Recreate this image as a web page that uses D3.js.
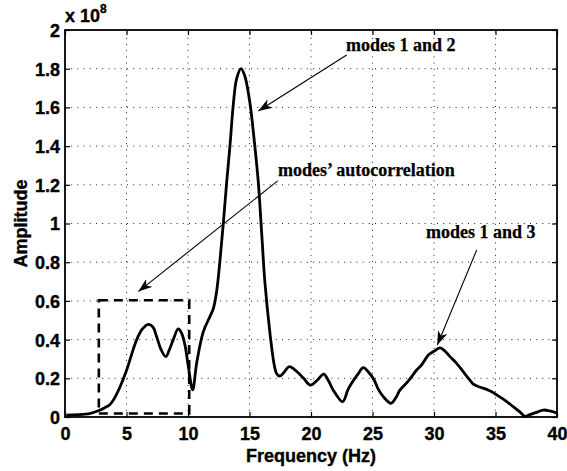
<!DOCTYPE html>
<html>
<head>
<meta charset="utf-8">
<script src="https://cdn.jsdelivr.net/npm/d3@7"></script>
<style>
  body { margin: 0; background: #fff; }
  svg { display: block; }
</style>
</head>
<body>
<svg id="chart" width="567" height="471"></svg>
<script>
// Spectrum amplitude (x 1e8) against frequency (Hz)
const frequency = [
  0.1, 1.0, 2.0, 2.7, 3.2, 3.66, 4.0, 4.47, 5.0, 5.4, 5.83, 6.3, 6.78, 7.15, 7.45, 7.8,
  8.19, 8.5, 8.8, 9.21, 9.5, 9.76, 10.03, 10.38, 10.7, 11.24, 11.79, 12.06, 12.33, 12.6,
  12.87, 13.14, 13.41, 13.69, 13.96, 14.31, 14.63, 15.04, 15.4, 15.72, 15.99, 16.26, 16.67,
  16.99, 17.2, 17.45, 17.75, 18.24, 18.84, 19.4, 19.95, 20.5, 21.03, 21.4, 21.8, 22.57,
  23.0, 23.3, 23.8, 24.25, 24.7, 25.1, 25.5, 25.88, 26.5, 26.9, 27.24, 27.9, 28.59, 29.0,
  29.54, 30.0, 30.49, 30.9, 31.3, 31.8, 32.38, 32.8, 33.2, 33.7, 34.28, 34.7, 35.1, 35.8,
  36.45, 37.0, 37.4, 37.7, 38.08, 38.5, 38.9, 39.5, 40.0
];
const amplitude = [
  0.010, 0.012, 0.018, 0.032, 0.047, 0.065, 0.095, 0.155, 0.24, 0.32, 0.40, 0.455, 0.479, 0.465, 0.415, 0.35,
  0.312, 0.35, 0.40, 0.455, 0.43, 0.37, 0.26, 0.14, 0.277, 0.44, 0.52, 0.56, 0.65, 0.81,
  1.00, 1.21, 1.40, 1.62, 1.75, 1.80, 1.76, 1.62, 1.42, 1.21, 0.95, 0.69, 0.43,
  0.277, 0.225, 0.212, 0.226, 0.26, 0.235, 0.20, 0.165, 0.19, 0.222, 0.19, 0.14, 0.079,
  0.14, 0.174, 0.22, 0.255, 0.23, 0.195, 0.14, 0.105, 0.071, 0.10, 0.14, 0.185, 0.243, 0.27,
  0.32, 0.34, 0.357, 0.34, 0.312, 0.28, 0.234, 0.2, 0.17, 0.155, 0.143, 0.13, 0.114, 0.085,
  0.053, 0.025, 0.003, 0.01, 0.019, 0.028, 0.036, 0.03, 0.02
];

const xTicks = [0, 5, 10, 15, 20, 25, 30, 35, 40];
const yTicks = [0, 0.2, 0.4, 0.6, 0.8, 1, 1.2, 1.4, 1.6, 1.8, 2];

// Dashed region around the autocorrelation band: [x0, x1, y0, y1]
const regionBox = [2.75, 10.1, 0.018, 0.603];

// Annotation labels with arrows (text anchor, arrow tail, arrow head)
const noteText = ["modes 1 and 2", "modes\u2019 autocorrelation", "modes 1 and 3"];
const noteAt   = [[22.85, 1.891], [17.32, 1.247], [29.35, 0.925]];
const arrowFrom = [[22.9, 1.871], [17.29, 1.220], [33.47, 0.863]];
const arrowTo   = [[15.72, 1.581], [5.96, 0.648], [30.27, 0.372]];

const svg = d3.select("#chart");
const m = { left: 65, right: 10, top: 30, bottom: 54 };
const W = 567, H = 471;
const x = d3.scaleLinear().domain([0, 40]).range([m.left, W - m.right]);
const y = d3.scaleLinear().domain([0, 2]).range([H - m.bottom, m.top]);
const x0 = x.range()[0], x1 = x.range()[1], y0 = y.range()[0], y1 = y.range()[1];

const sansBold = "'Liberation Sans', Arial, Helvetica, sans-serif";
const serifBold = "'Liberation Serif', 'Times New Roman', serif";
const heavy = sel => sel.attr("font-weight", "bold").attr("fill", "#000")
  .attr("stroke", "#000").attr("stroke-width", 0.35);

// dotted grid
const grid = svg.append("g").attr("stroke", "#222").attr("stroke-width", 1)
  .attr("stroke-dasharray", "1,5.2");
grid.selectAll("line.gx").data(xTicks.filter(d => d > 0 && d < 40)).join("line")
  .attr("x1", d => x(d)).attr("x2", d => x(d)).attr("y1", y0).attr("y2", y1);
grid.selectAll("line.gy").data(yTicks.filter(d => d > 0 && d < 2)).join("line")
  .attr("y1", d => y(d)).attr("y2", d => y(d)).attr("x1", x0).attr("x2", x1);

// axes with inward ticks on all four sides
const tl = 5;
const axB = svg.append("g").attr("transform", `translate(0,${y0})`)
  .call(d3.axisBottom(x).tickValues(xTicks).tickSizeInner(-tl).tickSizeOuter(0).tickPadding(10).tickFormat(d3.format("d")));
const axT = svg.append("g").attr("transform", `translate(0,${y1})`)
  .call(d3.axisTop(x).tickValues(xTicks).tickSizeInner(-tl).tickSizeOuter(0).tickFormat(""));
const axL = svg.append("g").attr("transform", `translate(${x0},0)`)
  .call(d3.axisLeft(y).tickValues(yTicks).tickSizeInner(-tl).tickSizeOuter(0).tickPadding(5).tickFormat(d => d3.format("")(d)));
const axR = svg.append("g").attr("transform", `translate(${x1},0)`)
  .call(d3.axisRight(y).tickValues(yTicks).tickSizeInner(-tl).tickSizeOuter(0).tickFormat(""));
[axB, axT, axL, axR].forEach(a => {
  a.select(".domain").remove();
  a.selectAll(".tick line").attr("stroke", "#000").attr("stroke-width", 1.2);
  a.selectAll("text").attr("font-family", sansBold).attr("font-size", 18).call(heavy);
});
axL.selectAll("text").attr("dy", "0.36em");

// frame
svg.append("rect").attr("x", x0).attr("y", y1).attr("width", x1 - x0).attr("height", y0 - y1)
  .attr("fill", "none").attr("stroke", "#000").attr("stroke-width", 1.8);

// exponent label
const ex = svg.append("text").attr("x", x0).attr("y", 22)
  .attr("font-family", sansBold).attr("font-size", 18).call(heavy);
ex.append("tspan").text("x 10");
ex.append("tspan").attr("dy", -9).attr("font-size", 12).text("8");

// axis titles
svg.append("text").attr("x", (x0 + x1) / 2).attr("y", 462).attr("text-anchor", "middle")
  .attr("font-family", sansBold).attr("font-size", 18).call(heavy).text("Frequency (Hz)");
svg.append("text").attr("transform", `translate(27,${(y0 + y1) / 2}) rotate(-90)`)
  .attr("text-anchor", "middle")
  .attr("font-family", sansBold).attr("font-size", 18).call(heavy).text("Amplitude");

// dashed region
svg.append("rect")
  .attr("x", x(regionBox[0])).attr("y", y(regionBox[3]))
  .attr("width", x(regionBox[1]) - x(regionBox[0])).attr("height", y(regionBox[2]) - y(regionBox[3]))
  .attr("fill", "none").attr("stroke", "#000").attr("stroke-width", 2.6).attr("stroke-dasharray", "9,6");

// spectrum curve
const pts = frequency.map((f, i) => [f, amplitude[i]]);
svg.append("path").datum(pts)
  .attr("d", d3.line().x(d => x(d[0])).y(d => y(d[1])).curve(d3.curveCatmullRom.alpha(0.5)))
  .attr("fill", "none").attr("stroke", "#000").attr("stroke-width", 2.8).attr("stroke-linejoin", "round");

// arrowhead marker
svg.append("defs").append("marker").attr("id", "arrowhead")
  .attr("viewBox", "0 0 14 10").attr("refX", 14).attr("refY", 5)
  .attr("markerWidth", 14).attr("markerHeight", 10).attr("markerUnits", "userSpaceOnUse")
  .attr("orient", "auto")
  .append("path").attr("d", "M0,0 L14,5 L0,10 L4,5 Z").attr("fill", "#000");

// annotations
const notes = svg.append("g");
noteText.forEach((t, i) => {
  notes.append("line")
    .attr("x1", x(arrowFrom[i][0])).attr("y1", y(arrowFrom[i][1]))
    .attr("x2", x(arrowTo[i][0])).attr("y2", y(arrowTo[i][1]))
    .attr("stroke", "#000").attr("stroke-width", 1.1).attr("marker-end", "url(#arrowhead)");
  notes.append("text").attr("x", x(noteAt[i][0])).attr("y", y(noteAt[i][1]))
    .attr("font-family", serifBold).attr("font-size", 18).call(heavy).attr("stroke-width", 0.25).text(t);
});
</script>
</body>
</html>
